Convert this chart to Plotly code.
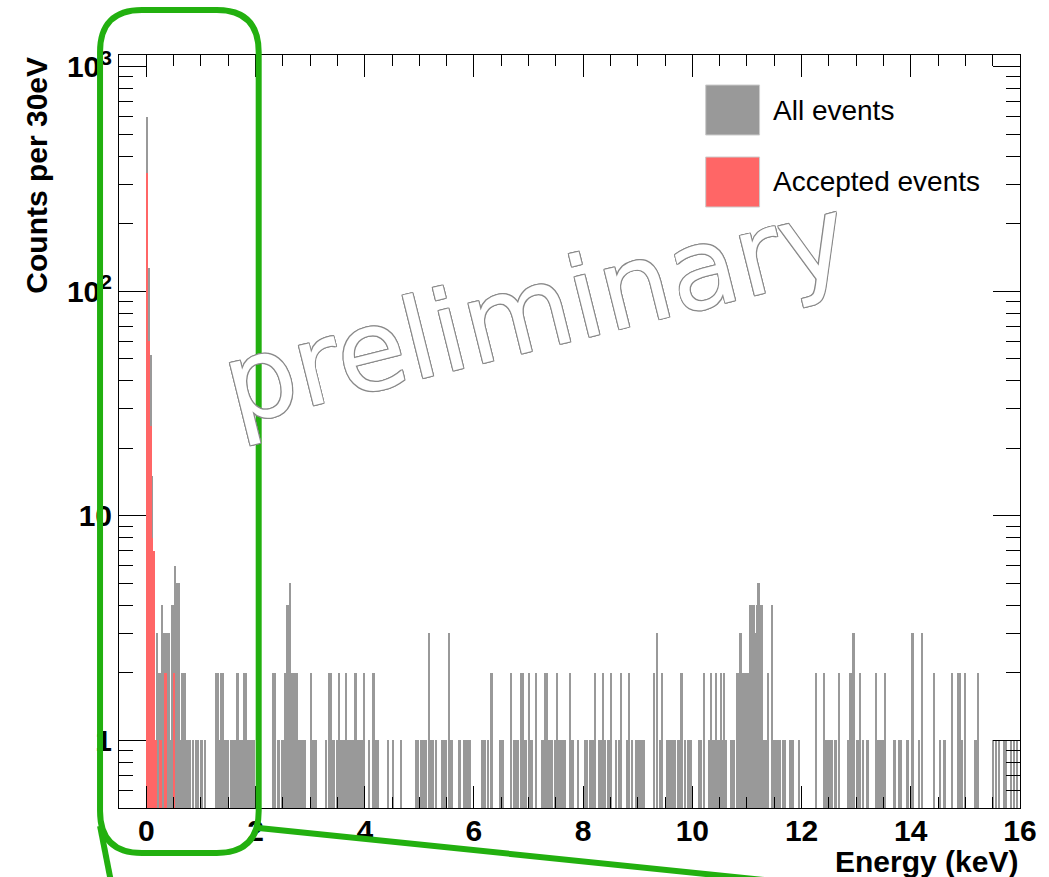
import numpy as np
import plotly.graph_objects as go

# ---------------------------------------------------------------------------
# Energy spectrum, 30 eV bins starting at -0.5 keV (bin k spans
# HIST_LO + k*BIN_W ... HIST_LO + (k+1)*BIN_W)
# ---------------------------------------------------------------------------
HIST_LO = -0.5
BIN_W = 0.03

# All events: non-empty bins and their counts
all_bins = [
    17, 18, 19, 20, 21, 22, 23, 24, 25, 26, 27, 28, 29, 30, 31, 32, 33, 34, 35, 36,
    37, 38, 39, 40, 41, 42, 43, 45, 47, 48, 50, 52, 59, 60, 61, 62, 63, 64, 65, 66,
    68, 69, 70, 71, 72, 73, 74, 75, 76, 77, 78, 79, 80, 81, 82, 84,
    94, 95, 97, 99, 100, 101, 102, 103, 104, 105, 106, 107, 108, 109, 110, 111, 112, 113,
    117, 118, 119, 120, 126, 128, 129, 130, 131, 133, 134, 135, 136, 137, 138, 139, 140,
    141, 142, 143, 144, 145, 146, 147, 148, 149, 152, 155, 156, 157, 158, 164, 167, 172,
    181, 182, 184, 185, 186, 187, 189, 190, 191, 193, 197, 198, 199, 201, 202, 203, 207,
    208, 210, 211, 212, 213, 214, 221, 222, 223, 225, 227, 232, 233, 234,
    239, 241, 242, 243, 245, 246, 247, 248, 250, 251, 252, 254, 258, 259, 260, 261, 262,
    263, 264, 266, 267, 268, 269, 270, 271, 272, 275, 276, 277, 280, 284, 285, 287, 288,
    289, 290, 293, 294, 295, 296, 298, 299, 300, 303, 305, 306, 310, 311, 313, 315, 316,
    317, 318, 319, 320, 326, 328, 330, 331, 334, 335, 336, 337, 338, 339, 341, 342, 343,
    345, 347, 348, 349, 354, 355, 357, 360, 361, 362, 363, 364, 365, 366, 367, 368, 369,
    370, 373, 374, 375, 377,
    378, 379, 380, 381, 382, 383, 384, 385, 386, 387, 388, 389, 390, 391, 392, 393, 394,
    395, 396, 398, 399, 400, 401, 402, 403, 405, 406, 409, 410, 411, 415, 425, 430, 431,
    432, 433, 434, 435, 437, 439, 445, 446, 447, 448, 450, 451, 452, 454, 456, 457, 462,
    463, 464, 465, 466, 467, 473, 476, 477, 481, 484, 488, 490, 497, 501, 503, 504, 508,
    512, 513, 514, 516, 522, 523, 524, 533, 535, 537, 540, 541, 544, 546, 548, 549,
]
all_counts = [
    597, 127, 52, 15, 7, 1, 3, 2, 2, 4, 3, 3, 3, 3, 1, 4, 4, 6, 5, 5,
    1, 2, 2, 2, 1, 1, 1, 1, 1, 1, 1, 1, 2, 2, 1, 2, 2, 1, 1, 1,
    1, 1, 1, 1, 2, 1, 1, 1, 2, 2, 1, 1, 1, 1, 1, 1,
    2, 2, 1, 1, 1, 2, 4, 4, 5, 2, 2, 2, 2, 1, 1, 1, 1, 1,
    2, 1, 1, 1, 1, 2, 2, 1, 1, 1, 2, 1, 1, 1, 2, 1, 1,
    1, 1, 1, 2, 1, 1, 1, 1, 2, 1, 2, 1, 1, 1, 1, 1, 1,
    1, 1, 1, 1, 1, 1, 3, 1, 1, 1, 1, 1, 1, 3, 1, 1, 1,
    1, 1, 1, 1, 1, 1, 1, 1, 1, 1, 2, 1, 1, 1,
    2, 1, 1, 1, 2, 2, 1, 1, 2, 1, 1, 2, 1, 1, 2, 2, 1,
    1, 1, 1, 2, 1, 1, 1, 1, 1, 2, 1, 1, 1, 1, 1, 1,
    1, 1, 2, 1, 1, 2, 1, 1, 1, 2, 1, 1, 2, 1, 2, 1, 1,
    1, 1, 1, 1, 1, 2, 3, 1, 2, 1, 1, 1, 1, 1, 1, 1, 1,
    2, 1, 1, 1, 1, 1, 1, 2, 1, 2, 1, 1, 2, 1, 1, 2, 1,
    2, 1, 1, 1, 1,
    2, 2, 3, 2, 2, 2, 2, 2, 4, 4, 4, 3, 4, 5, 4, 4, 1,
    1, 1, 2, 4, 1, 1, 1, 1, 1, 1, 1, 1, 1, 1, 1, 2, 2,
    1, 1, 1, 1, 1, 1, 2, 1, 2, 2, 3, 1, 1, 2, 1, 1, 1,
    2, 1, 1, 1, 1, 2, 1, 1, 1, 1, 3, 1, 3, 2, 1, 1, 1,
    2, 2, 2, 1, 2, 1, 1, 2, 1, 1, 1, 1, 1, 1, 1, 1,
]

# Accepted events: non-empty bins and their counts
acc_bins = [17, 18, 19, 20, 21, 22, 25, 28, 33]
acc_counts = [337, 60, 25, 8, 7, 1, 1, 2, 2]

# Axis ticks
x_tickvals = [0, 2, 4, 6, 8, 10, 12, 14, 16]
y_tickvals = [1, 10, 100, 1000]
y_ticktext = ["1", "10", "10<sup>2</sup>", "10<sup>3</sup>"]
y_minorvals = [m * 10.0 ** d for d in range(-1, 3) for m in range(2, 10) if m * 10.0 ** d >= 0.5]

legend_labels = ["All events", "Accepted events"]
GRAY = "#999999"
RED = "#ff6666"
GREEN = "#22b00f"

# ---------------------------------------------------------------------------
# Page geometry
# ---------------------------------------------------------------------------
W, H = 1049, 877
ML, MR, MT, MB = 119, 27, 55, 69
PW, PH = W - ML - MR, H - MT - MB


def px(x):
    """Horizontal page pixel -> paper fraction."""
    return (x - ML) / PW


def py(y):
    """Vertical page pixel (from top) -> paper fraction."""
    return (H - MB - y) / PH


def bin_centers(bins):
    return HIST_LO + BIN_W * (np.asarray(bins) + 0.5)


fig = go.Figure()
fig.add_trace(go.Bar(
    x=bin_centers(all_bins), y=all_counts, width=BIN_W,
    marker=dict(color=GRAY, line=dict(width=0)),
    name=legend_labels[0], showlegend=False,
))
fig.add_trace(go.Bar(
    x=bin_centers(acc_bins), y=acc_counts, width=BIN_W,
    marker=dict(color=RED, line=dict(width=0)),
    name=legend_labels[1], showlegend=False,
))

tick_font = dict(family="Liberation Sans, Arial, sans-serif", size=30, color="black", weight="bold")

fig.update_layout(
    width=W, height=H,
    margin=dict(l=ML, r=MR, t=MT, b=MB, pad=0),
    paper_bgcolor="white", plot_bgcolor="white",
    barmode="overlay", bargap=0,
    showlegend=False,
    xaxis=dict(
        range=[HIST_LO, 16], tickmode="array", tickvals=x_tickvals,
        ticks="inside", ticklen=22, tickwidth=1, tickcolor="black",
        showline=True, linecolor="black", linewidth=1, mirror="allticks",
        showgrid=False, zeroline=False, tickfont=tick_font, ticklabelstandoff=-4,
        minor=dict(dtick=0.5, tick0=0, ticks="inside", ticklen=11,
                   tickwidth=1, tickcolor="black", showgrid=False),
    ),
    yaxis=dict(
        type="log", range=[np.log10(0.5), 3.052],
        tickmode="array", tickvals=y_tickvals, ticktext=y_ticktext,
        ticks="inside", ticklen=27, tickwidth=1, tickcolor="black",
        showline=True, linecolor="black", linewidth=1, mirror="allticks",
        showgrid=False, zeroline=False, tickfont=tick_font,
        minor=dict(tickmode="array", tickvals=y_minorvals, ticks="inside",
                   ticklen=14, tickwidth=1, tickcolor="black", showgrid=False),
    ),
)

# Axis titles (right / top aligned)
title_font = dict(family="Liberation Sans, Arial, sans-serif", size=30, color="black", weight="bold")
fig.add_annotation(text="Energy (keV)", xref="paper", yref="paper",
                   x=1, y=py(861), xanchor="right", yanchor="middle",
                   showarrow=False, font=title_font)
fig.add_annotation(text="Counts per 30eV", xref="paper", yref="paper",
                   x=px(36), y=1, xanchor="center", yanchor="top", textangle=-90,
                   showarrow=False, font=title_font)

# Legend boxes and labels
legend_font = dict(family="Liberation Sans, Arial, sans-serif", size=28, color="black")
for (top, bottom), colour, label in zip([(85, 135), (157, 207)], [GRAY, RED], legend_labels):
    fig.add_shape(type="rect", xref="paper", yref="paper",
                  x0=px(707), x1=px(761), y0=py(bottom), y1=py(top),
                  fillcolor=colour, line=dict(color="#cccccc", width=1), layer="above")
    fig.add_annotation(text=label, xref="paper", yref="paper",
                       x=px(772), y=py((top + bottom) / 2), xanchor="left", yanchor="middle",
                       showarrow=False, font=legend_font)

# Outlined "preliminary" watermark
outline = ", ".join(f"{dx}px {dy}px 0 #8a8a8a" for dx, dy in
                    [(-1, 0), (1, 0), (0, -1), (0, 1), (-1, -1), (1, -1), (-1, 1), (1, 1)])
fig.add_annotation(text="preliminary", xref="paper", yref="paper",
                   x=px(536), y=py(310), xanchor="center", yanchor="middle",
                   textangle=-14, showarrow=False,
                   font=dict(family="DejaVu Sans, sans-serif", size=112, color="white",
                             shadow=outline))

# Green zoom marker: rounded box around the low-energy region and guide lines
L, R, T, B, r = 100, 259, 10, 853, 42
pts = [
    ("M", (L, T + r)), ("Q", (L, T), (L + r, T)), ("L", (R - r, T)),
    ("Q", (R, T), (R, T + r)), ("L", (R, B - r)), ("Q", (R, B), (R - r, B)),
    ("L", (L + r, B)), ("Q", (L, B), (L, B - r)),
]
path = ""
for cmd, *coords in pts:
    path += cmd + " " + " ".join(f"{px(x):.5f},{py(y):.5f}" for x, y in coords) + " "
path += "Z"
fig.add_shape(type="path", path=path, xref="paper", yref="paper",
              line=dict(color=GREEN, width=6), layer="above")
fig.add_shape(type="line", xref="paper", yref="paper",
              x0=px(100), y0=py(826), x1=px(113), y1=py(892),
              line=dict(color=GREEN, width=6), layer="above")
fig.add_shape(type="line", xref="paper", yref="paper",
              x0=px(259), y0=py(828), x1=px(863), y1=py(890),
              line=dict(color=GREEN, width=6), layer="above")

fig.write_html("out.html")
